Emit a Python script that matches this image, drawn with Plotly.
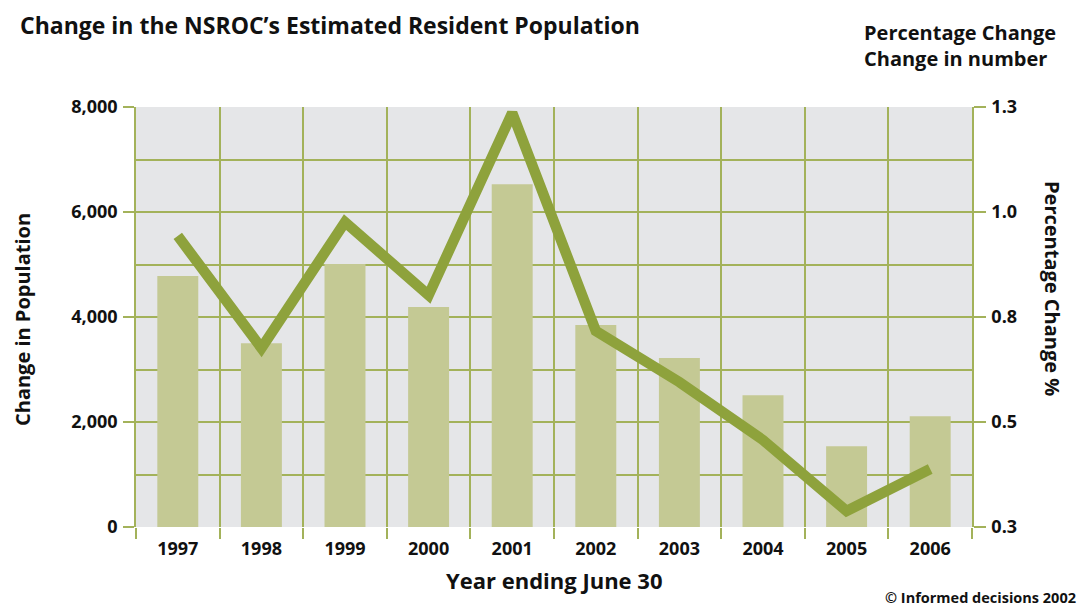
import plotly.graph_objects as go

years = ["1997", "1998", "1999", "2000", "2001", "2002", "2003", "2004", "2005", "2006"]
change_number = [4780, 3500, 5010, 4190, 6530, 3850, 3220, 2510, 1540, 2110]
change_pct = [0.943, 0.676, 0.976, 0.802, 1.236, 0.717, 0.595, 0.457, 0.288, 0.388]
pct_tickvals = [0.25, 0.5, 0.75, 1.0, 1.25]
pct_ticktext = ["0.3", "0.5", "0.8", "1.0", "1.3"]

grid = "#a3b25a"
FONT = "Open Sans"
x = list(range(len(years)))

fig = go.Figure()
fig.add_trace(go.Bar(x=x, y=change_number, width=0.49, marker=dict(color="#c4c994", line=dict(width=0)),
                     name="Change in number"))
fig.add_trace(go.Scatter(x=x, y=change_pct, yaxis="y2", mode="lines",
                         line=dict(color="#8ea23c", width=10.5), name="Percentage Change"))

# page body has an 8px margin, so the figure is 8px smaller each way
fig.update_layout(
    width=1077, height=599,
    margin=dict(l=128, r=113, t=99, b=80),
    paper_bgcolor="white", plot_bgcolor="#e5e6e8",
    showlegend=False,
    font=dict(family=FONT, size=18, color="#111111", weight="bold"),
    xaxis=dict(range=[-0.5, 9.5], tickmode="array", tickvals=x, ticktext=years,
               ticks="", showgrid=False, zeroline=False, showline=False, automargin=False,
               ticklabelstandoff=9,
               minor=dict(tick0=0.5, dtick=1, showgrid=True, gridcolor=grid, gridwidth=1.5,
                          ticks="outside", ticklen=11, tickcolor=grid, tickwidth=1.5)),
    yaxis=dict(range=[0, 8000], dtick=2000, tickformat=",", ticks="outside", ticklen=11,
               tickcolor=grid, tickwidth=1.5, showgrid=True, gridcolor=grid, gridwidth=1.5,
               zeroline=False, showline=True, linecolor=grid, linewidth=1.5, automargin=False,
               ticklabelstandoff=2,
               minor=dict(dtick=1000, showgrid=True, gridcolor=grid, gridwidth=1.5)),
    yaxis2=dict(overlaying="y", side="right", range=[0.25, 1.25], tickmode="array",
                tickvals=pct_tickvals, ticktext=pct_ticktext, ticks="outside", ticklen=12,
                tickcolor=grid, tickwidth=1.5, showgrid=False, zeroline=False, automargin=False,
                showline=True, linecolor=grid, linewidth=1.5, ticklabelstandoff=2),
)

fig.add_annotation(text="Change in the NSROC\u2019s Estimated Resident Population", x=0, xref="paper",
                   xanchor="left", y=1, yref="paper", yanchor="middle", showarrow=False,
                   xshift=-118, yshift=82, font=dict(size=23))
fig.add_annotation(text="Percentage Change<br>Change in number", xref="paper", x=1, xanchor="left",
                   yref="paper", y=1, yanchor="middle", showarrow=False, align="left",
                   xshift=-110, yshift=62, font=dict(size=20))
fig.add_annotation(text="Change in Population", textangle=-90, xref="paper", x=0, xanchor="center",
                   yref="paper", y=0.5, yanchor="middle", showarrow=False, xshift=-114, yshift=-3,
                   font=dict(size=20))
fig.add_annotation(text="Percentage Change %", textangle=90, xref="paper", x=1, xanchor="center",
                   yref="paper", y=0.5, yanchor="middle", showarrow=False, xshift=81, yshift=29,
                   font=dict(size=20))
fig.add_annotation(text="Year ending June 30", xref="paper", x=0.5, xanchor="center",
                   yref="paper", y=0, yanchor="middle", showarrow=False, yshift=-53,
                   font=dict(size=22))
fig.add_annotation(text="\u00a9 Informed decisions 2002", xref="paper", x=1, xanchor="right",
                   yref="paper", y=0, yanchor="middle", showarrow=False, xshift=106, yshift=-70,
                   font=dict(size=14.5))

fig.write_html("out.html")
